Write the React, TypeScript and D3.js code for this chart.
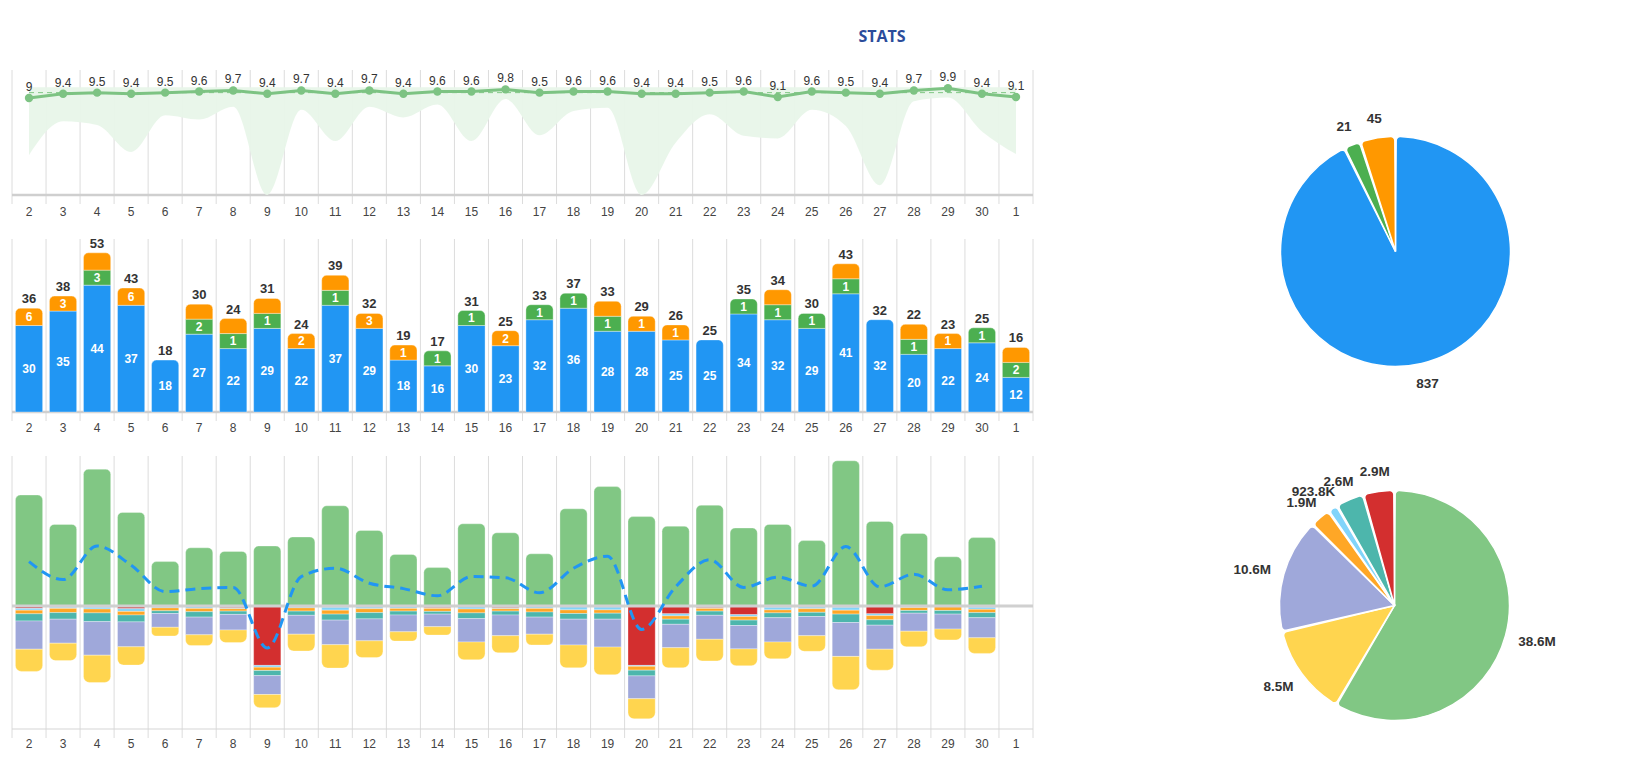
import React from "react";
import * as d3 from "d3";

// ---------- DATA ----------
const days = ["2","3","4","5","6","7","8","9","10","11","12","13","14","15","16","17","18","19","20","21","22","23","24","25","26","27","28","29","30","1"];

// Top chart: rating
const ratingScores = [9,9.4,9.5,9.4,9.5,9.6,9.7,9.4,9.7,9.4,9.7,9.4,9.6,9.6,9.8,9.5,9.6,9.6,9.4,9.4,9.5,9.6,9.1,9.6,9.5,9.4,9.7,9.9,9.4,9.1];
const ratingLow = [3.7,6.85,6.5,4.0,7.4,7.0,8.2,0,7.9,5.0,8.2,7.2,8.4,5.0,8.9,5.55,7.8,8.1,0,4.85,7.5,5.5,5.25,7.9,6.4,0.9,8.7,9.05,5.9,3.8];
const ratingHigh = [10,10,10,10,10,10,10,10,10,10,10,10,10,10,10,10,10,10,10,10,10,10,10,10,10,10,10,10,10,10];
const ratingAverage = 9.5;

// Middle chart: counts (stacked)
const countBlue = [30,35,44,37,18,27,22,29,22,37,29,18,16,30,23,32,36,28,28,25,25,34,32,29,41,32,20,22,24,12];
const countGreen = [0,0,3,0,0,2,1,1,0,1,0,0,1,1,0,1,1,1,0,0,0,1,1,1,1,0,1,0,1,2];
const countOrange = [6,3,6,6,0,1,1,1,2,1,3,1,0,0,2,0,0,4,1,1,0,0,1,0,1,0,1,1,0,2];

// Bottom chart: money (millions)
const income = [1.85,1.36,2.28,1.56,0.74,0.97,0.91,1.0,1.15,1.67,1.26,0.86,0.64,1.37,1.22,0.87,1.62,1.99,1.49,1.33,1.68,1.30,1.36,1.09,2.42,1.41,1.21,0.82,1.14,0];
const costRed = [0.04,0.02,0.02,0.045,0,0.01,0.03,0.99,0,0.02,0.015,0.01,0.03,0.01,0.03,0.01,0.01,0.015,0.99,0.13,0.03,0.145,0.02,0.015,0.02,0.13,0.015,0.005,0.02,0];
const costLightBlue = [0.03,0.02,0.03,0.045,0.03,0.03,0.015,0.03,0.03,0.05,0.03,0.03,0.01,0.04,0.015,0.03,0.055,0.05,0.015,0.035,0.01,0.03,0.045,0.03,0.05,0.03,0.01,0.005,0.035,0];
const costOrange = [0.06,0.07,0.065,0.06,0.05,0.055,0.04,0.055,0.055,0.065,0.065,0.045,0.05,0.065,0.04,0.06,0.06,0.055,0.065,0.055,0.045,0.06,0.05,0.06,0.065,0.07,0.05,0.065,0.055,0];
const costTeal = [0.12,0.11,0.145,0.115,0.045,0.09,0.055,0.085,0.07,0.10,0.105,0.065,0.045,0.095,0.065,0.085,0.095,0.10,0.095,0.085,0.07,0.09,0.08,0.07,0.14,0.09,0.045,0.06,0.085,0];
const costPurple = [0.47,0.40,0.56,0.415,0.23,0.295,0.26,0.315,0.315,0.41,0.365,0.28,0.21,0.39,0.345,0.285,0.43,0.465,0.38,0.39,0.40,0.39,0.405,0.32,0.565,0.40,0.30,0.25,0.335,0];
const costYellow = [0.37,0.29,0.455,0.305,0.145,0.18,0.21,0.22,0.28,0.39,0.28,0.155,0.14,0.295,0.285,0.18,0.38,0.46,0.335,0.335,0.36,0.28,0.28,0.26,0.555,0.35,0.26,0.18,0.26,0];
const netResult = [0.74,0.44,1.0,0.68,0.24,0.29,0.31,-0.70,0.49,0.63,0.38,0.29,0.17,0.49,0.47,0.22,0.63,0.83,-0.39,0.32,0.77,0.31,0.48,0.33,0.99,0.32,0.53,0.27,0.33];

// Right pie (money) totals
const moneyPieValues = [38.6e6, 8.5e6, 10.6e6, 1.9e6, 923.8e3, 2.6e6, 2.9e6];

// ---------- STYLE ----------
const FONT = "'Liberation Sans', Arial, sans-serif";
const C_BLUE = "#2196F3", C_GREEN = "#4CAF50", C_ORANGE = "#FF9800";
const moneyColors = ["#81C784", "#FFD54F", "#9FA8DA", "#FFA726", "#81D4FA", "#4DB6AC", "#D32F2F"];
const GRID = "#dcdcdc";
const AXIS = "#cfcfcf";
const TICK_TEXT = "#444";

const X0 = 12, X1 = 1033;
const TOP = { top: 70, axis: 195, label: 216 };
const MID = { top: 239, axis: 412, label: 431.5 };
const BOT = { top: 456, axis: 729, label: 748 };

function roundRect(x: number, y: number, w: number, h: number, rt: number, rb: number) {
  rt = Math.max(0, Math.min(rt, w / 2, h / 2));
  rb = Math.max(0, Math.min(rb, w / 2, h / 2));
  return `M${x},${y + rt}` +
    (rt ? `A${rt},${rt} 0 0 1 ${x + rt},${y}` : "") +
    `L${x + w - rt},${y}` +
    (rt ? `A${rt},${rt} 0 0 1 ${x + w},${y + rt}` : "") +
    `L${x + w},${y + h - rb}` +
    (rb ? `A${rb},${rb} 0 0 1 ${x + w - rb},${y + h}` : "") +
    `L${x + rb},${y + h}` +
    (rb ? `A${rb},${rb} 0 0 1 ${x},${y + h - rb}` : "") +
    "Z";
}

function textWidth(s: string, size: number) {
  let w = 0;
  for (const ch of s) {
    if (ch === ".") w += 0.278;
    else if (ch === "M") w += 0.833;
    else if (ch === "K") w += 0.722;
    else w += 0.556;
  }
  return w * size;
}

function fmtMoney(v: number) {
  if (v >= 1e6) return (v / 1e6).toFixed(1) + "M";
  return (v / 1e3).toFixed(1) + "K";
}

const x = d3.scaleBand<string>().domain(days).range([X0, X1]).paddingInner(0.2).paddingOuter(0.1);
const step = x.step();
const bw = x.bandwidth();
const cx = (d: string) => (x(d) as number) + bw / 2;
const boundaries = d3.range(days.length + 1).map((i) => X0 + i * step);

function Grid({ top, axis, label, axisWidth = 2.5, axisColor = AXIS }: { top: number; axis: number; label: number; axisWidth?: number; axisColor?: string }) {
  return (
    <g>
      {boundaries.map((bx, i) => (
        <line key={"g" + i} x1={bx} x2={bx} y1={top} y2={axis + 9} stroke={GRID} strokeWidth={1} />
      ))}
      <line x1={X0} x2={X1} y1={axis} y2={axis} stroke={axisColor} strokeWidth={axisWidth} />
      {days.map((d) => (
        <text key={"t" + d} x={cx(d)} y={label} textAnchor="middle" fontSize={12} fill={TICK_TEXT} fontFamily={FONT}>{d}</text>
      ))}
    </g>
  );
}

function RatingChart() {
  const y = d3.scaleLinear().domain([0, 11.6]).range([TOP.axis, TOP.top]);
  const idx = d3.range(days.length);
  const area = d3.area<number>()
    .x((i) => cx(days[i]))
    .y0((i) => y(ratingLow[i]))
    .y1((i) => y(ratingHigh[i]))
    .curve(d3.curveMonotoneX);
  const line = d3.line<number>().x((i) => cx(days[i])).y((i) => y(ratingScores[i]));
  return (
    <g>
      <Grid {...TOP} />
      <path d={area(idx) || ""} fill="#E8F5E9" opacity={0.95} />
      <line x1={cx(days[0])} x2={cx(days[days.length - 1])} y1={y(ratingAverage)} y2={y(ratingAverage)} stroke="#81C784" strokeWidth={1} strokeDasharray="5,4" />
      <path d={line(idx) || ""} fill="none" stroke="#7DC383" strokeWidth={3} />
      {idx.map((i) => (
        <circle key={i} cx={cx(days[i])} cy={y(ratingScores[i])} r={4.2} fill="#7DC383" />
      ))}
      {idx.map((i) => (
        <text key={"l" + i} x={cx(days[i])} y={y(ratingScores[i]) - 7} textAnchor="middle" fontSize={12} fill="#333" fontFamily={FONT}>{String(ratingScores[i])}</text>
      ))}
    </g>
  );
}

function CountChart() {
  const y = d3.scaleLinear().domain([0, 60]).range([MID.axis, MID.top]);
  const MIN_H = 15;
  const series = [
    { vals: countBlue, color: C_BLUE, key: "b" },
    { vals: countGreen, color: C_GREEN, key: "g" },
    { vals: countOrange, color: C_ORANGE, key: "o" },
  ];
  const els: React.ReactNode[] = [];
  days.forEach((d, i) => {
    let y0 = y(0);
    const segs: { top: number; h: number; color: string; v: number; key: string }[] = [];
    series.forEach((s) => {
      const v = s.vals[i];
      if (v <= 0) return;
      const h = Math.max(y(0) - y(v), MIN_H);
      segs.push({ top: y0 - h, h, color: s.color, v, key: s.key });
      y0 -= h;
    });
    const bx = x(d) as number;
    segs.forEach((sg, j) => {
      const isTop = j === segs.length - 1;
      els.push(
        <path key={`s${i}-${j}`} d={roundRect(bx, sg.top, bw, sg.h, isTop ? 5 : 0, 0)} fill={sg.color} stroke="#ffffff" strokeOpacity={0.45} strokeWidth={0.8} />
      );
      const showLabel = !(sg.key === "o" && countGreen[i] > 0);
      if (showLabel) {
        els.push(
          <text key={`sl${i}-${j}`} x={cx(d)} y={sg.top + sg.h / 2} dy="0.36em" textAnchor="middle" fontSize={12} fontWeight="bold" fill="#fff" fontFamily={FONT}>{sg.v}</text>
        );
      }
    });
    const total = countBlue[i] + countGreen[i] + countOrange[i];
    els.push(
      <text key={`tot${i}`} x={cx(d)} y={y0 - 5} textAnchor="middle" fontSize={13} fontWeight="bold" fill="#333" fontFamily={FONT}>{total}</text>
    );
  });
  return (
    <g>
      <Grid {...MID} />
      {els}
    </g>
  );
}

function MoneyChart() {
  const y = d3.scaleLinear().domain([-2.05, 2.5]).range([BOT.axis, BOT.top]);
  const costSeries = [
    { vals: costRed, color: moneyColors[6] },
    { vals: costLightBlue, color: moneyColors[4] },
    { vals: costOrange, color: moneyColors[3] },
    { vals: costTeal, color: moneyColors[5] },
    { vals: costPurple, color: moneyColors[2] },
    { vals: costYellow, color: moneyColors[1] },
  ];
  const els: React.ReactNode[] = [];
  days.forEach((d, i) => {
    const bx = x(d) as number;
    if (income[i] > 0) {
      const top = y(income[i]);
      els.push(
        <path key={`inc${i}`} d={roundRect(bx, top, bw, y(0) - top, 5, 0)} fill={moneyColors[0]} stroke="#fff" strokeOpacity={0.4} strokeWidth={0.8} />
      );
    }
    let acc = 0;
    const segs: { y0: number; y1: number; color: string }[] = [];
    costSeries.forEach((s) => {
      const v = s.vals[i];
      if (v <= 0) return;
      segs.push({ y0: y(-acc), y1: y(-(acc + v)), color: s.color });
      acc += v;
    });
    segs.forEach((sg, j) => {
      const isLast = j === segs.length - 1;
      els.push(
        <path key={`c${i}-${j}`} d={roundRect(bx, sg.y0, bw, sg.y1 - sg.y0, 0, isLast ? 6 : 0)} fill={sg.color} stroke="#fff" strokeOpacity={0.4} strokeWidth={0.8} />
      );
    });
  });
  const line = d3.line<number>()
    .x((i) => cx(days[i]))
    .y((i) => y(netResult[i]))
    .curve(d3.curveMonotoneX);
  return (
    <g>
      <Grid top={BOT.top} axis={BOT.axis} label={BOT.label} axisWidth={1.2} axisColor="#d6d6d6" />
      {els}
      <line x1={X0} x2={X1} y1={y(0)} y2={y(0)} stroke="#d0d0d0" strokeWidth={3} />
      <path d={line(d3.range(netResult.length)) || ""} fill="none" stroke={C_BLUE} strokeWidth={3} strokeDasharray="10,6" />
    </g>
  );
}

function Pie({ cxp, cyp, values, colors, format }: { cxp: number; cyp: number; values: number[]; colors: string[]; format: (v: number) => string }) {
  const R = 115;
  const arcs = d3.pie<number>().sort(null).value((v) => v)(values);
  const arc = d3.arc<d3.PieArcDatum<number>>().innerRadius(0).outerRadius(R).cornerRadius(4).padAngle(0.012);
  return (
    <g transform={`translate(${cxp},${cyp})`}>
      {arcs.map((a, i) => (
        <path key={i} d={arc(a) || ""} fill={colors[i]} stroke="#fff" strokeWidth={1.5} />
      ))}
      {arcs.map((a, i) => {
        const ang = (a.startAngle + a.endAngle) / 2;
        const dx = Math.sin(ang), dy = -Math.cos(ang);
        const lbl = format(a.data);
        const fs = 13.5;
        const w = textWidth(lbl, fs);
        const h = 13;
        const px = 129 * dx + (dx * w) / 2;
        const py = 129 * dy + (dy * h) / 2;
        return (
          <text key={"l" + i} x={px} y={py} dy="0.36em" textAnchor="middle" fontSize={fs} fontWeight="bold" fill="#333" fontFamily={FONT}>{lbl}</text>
        );
      })}
    </g>
  );
}

export default function App() {
  const countPieValues = [d3.sum(countBlue), d3.sum(countGreen), d3.sum(countOrange)];
  return (
    <svg width={1638} height={759} style={{ position: "absolute", left: 0, top: 0, background: "#fff" }}>
      <text x={882} y={41.5} textAnchor="middle" fontSize={16} fontWeight="bold" fill="#2b4c9b" fontFamily="'Open Sans', 'Noto Sans', sans-serif">STATS</text>
      <RatingChart />
      <CountChart />
      <MoneyChart />
      <Pie cxp={1395.5} cyp={251.5} values={countPieValues} colors={[C_BLUE, C_GREEN, C_ORANGE]} format={(v) => String(v)} />
      <Pie cxp={1394.5} cyp={605.5} values={moneyPieValues} colors={moneyColors} format={fmtMoney} />
    </svg>
  );
}
